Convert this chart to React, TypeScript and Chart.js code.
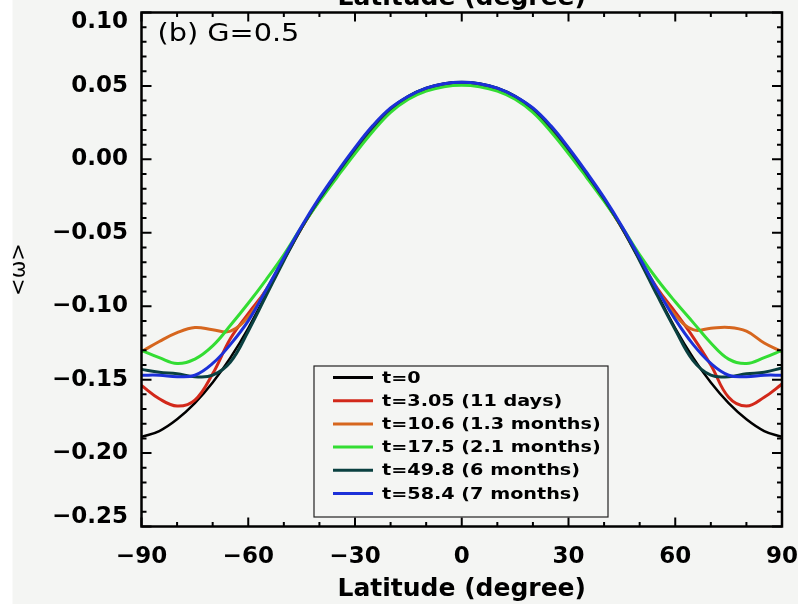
import { useEffect, useRef } from 'react';
import { Chart, registerables } from 'chart.js';

Chart.register(...registerables);

// Latitude grid (degrees)
const latitudes = [
  -90, -85, -80, -75, -70, -65, -60, -55, -50, -45, -40, -35, -30, -25, -20, -15, -10, -5, 0,
  5, 10, 15, 20, 25, 30, 35, 40, 45, 50, 55, 60, 65, 70, 75, 80, 85, 90,
];

// Latitudinal profiles of <ω> at successive times
const omegaT0 = [
  -0.189, -0.185, -0.177, -0.166, -0.152, -0.135, -0.115, -0.092, -0.0685, -0.0465, -0.027, -0.0095, 0.007, 0.022, 0.0345, 0.043, 0.0485, 0.0515, 0.0525,
  0.0515, 0.0485, 0.043, 0.0345, 0.022, 0.007, -0.0095, -0.027, -0.0465, -0.0685, -0.092, -0.115, -0.135, -0.152, -0.166, -0.177, -0.185, -0.189,
];
const omegaT305 = [
  -0.154, -0.163, -0.168, -0.164, -0.146, -0.122, -0.105, -0.089, -0.068, -0.0465, -0.0275, -0.010, 0.0065, 0.0215, 0.034, 0.0425, 0.048, 0.051, 0.052,
  0.051, 0.048, 0.0425, 0.034, 0.0215, 0.0065, -0.010, -0.0275, -0.0465, -0.068, -0.088, -0.104, -0.121, -0.140, -0.162, -0.168, -0.162, -0.153,
];
const omegaT106 = [
  -0.131, -0.124, -0.118, -0.1145, -0.116, -0.117, -0.107, -0.089, -0.068, -0.0465, -0.0275, -0.010, 0.0065, 0.0215, 0.034, 0.0425, 0.048, 0.051, 0.052,
  0.051, 0.048, 0.0425, 0.034, 0.0215, 0.0065, -0.010, -0.0275, -0.0465, -0.068, -0.089, -0.106, -0.116, -0.115, -0.1145, -0.117, -0.125, -0.131,
];
const omegaT175 = [
  -0.130, -0.135, -0.139, -0.136, -0.127, -0.113, -0.098, -0.082, -0.065, -0.046, -0.0285, -0.012, 0.004, 0.019, 0.032, 0.041, 0.0465, 0.0495, 0.0505,
  0.0495, 0.0465, 0.041, 0.032, 0.019, 0.004, -0.012, -0.0285, -0.046, -0.065, -0.082, -0.097, -0.111, -0.125, -0.136, -0.139, -0.135, -0.130,
];
const omegaT498 = [
  -0.143, -0.145, -0.146, -0.148, -0.147, -0.138, -0.117, -0.093, -0.069, -0.0465, -0.027, -0.0095, 0.007, 0.022, 0.0345, 0.043, 0.0485, 0.0515, 0.0525,
  0.0515, 0.0485, 0.043, 0.0345, 0.022, 0.007, -0.0095, -0.027, -0.0465, -0.069, -0.093, -0.116, -0.137, -0.147, -0.148, -0.146, -0.145, -0.142,
];
const omegaT584 = [
  -0.147, -0.147, -0.148, -0.147, -0.139, -0.126, -0.110, -0.089, -0.067, -0.0455, -0.026, -0.0085, 0.008, 0.023, 0.035, 0.043, 0.0485, 0.0515, 0.0525,
  0.0515, 0.0485, 0.043, 0.035, 0.023, 0.008, -0.0085, -0.026, -0.0455, -0.067, -0.089, -0.109, -0.126, -0.139, -0.147, -0.148, -0.147, -0.147,
];

const seriesValues = [omegaT0, omegaT305, omegaT106, omegaT175, omegaT498, omegaT584];
const seriesLabels = [
  't=0',
  't=3.05 (11 days)',
  't=10.6 (1.3 months)',
  't=17.5 (2.1 months)',
  't=49.8 (6 months)',
  't=58.4 (7 months)',
];
const seriesColors = ['#000000', '#d2281a', '#d6661e', '#33dd33', '#0a4040', '#1c30d8'];
const seriesWidths = [2.5, 3, 3, 3, 3, 3];

const xTickValues = [-90, -60, -30, 0, 30, 60, 90];
const yTickValues = [-0.25, -0.2, -0.15, -0.1, -0.05, 0, 0.05, 0.1];

const panelLabel = '(b) G=0.5';
const xTitle = 'Latitude (degree)';
const yTitle = '<ω>';

const BG = '#f4f5f3';
const TICK_FONT = { family: 'DejaVu Sans', size: 23, weight: 'bold' as const };

const minusSign = (s: string) => s.replace('-', '\u2212');

// Frame, inward ticks, panel tag, top title and legend box
const decorations = {
  id: 'decorations',
  afterDraw(chart: any) {
    const { ctx, chartArea: a, scales } = chart;
    const xs = scales.x;
    const ys = scales.y;
    ctx.save();
    ctx.strokeStyle = '#000';
    ctx.lineWidth = 2;
    ctx.beginPath();
    for (let d = -90; d <= 90; d += 10) {
      const px = xs.getPixelForValue(d);
      const len = d % 30 === 0 ? 9 : 4.5;
      ctx.moveTo(px, a.bottom);
      ctx.lineTo(px, a.bottom - len);
      ctx.moveTo(px, a.top);
      ctx.lineTo(px, a.top + len);
    }
    for (let k = -25; k <= 10; k++) {
      const py = ys.getPixelForValue(k / 100);
      const len = k % 5 === 0 ? 10 : 5;
      ctx.moveTo(a.left, py);
      ctx.lineTo(a.left + len, py);
      ctx.moveTo(a.right, py);
      ctx.lineTo(a.right - len, py);
    }
    ctx.stroke();
    ctx.lineWidth = 2.5;
    ctx.strokeRect(a.left, a.top, a.right - a.left, a.bottom - a.top);

    // top axis title, partly outside the canvas
    ctx.fillStyle = '#000';
    ctx.font = 'bold 25px "DejaVu Sans"';
    ctx.textAlign = 'center';
    ctx.textBaseline = 'alphabetic';
    ctx.fillText(xTitle, (a.left + a.right) / 2, 5);

    // panel tag
    ctx.save();
    ctx.translate(a.left + 16, a.top + 22);
    ctx.scale(1.15, 1);
    ctx.font = '25px "DejaVu Sans"';
    ctx.textAlign = 'left';
    ctx.textBaseline = 'middle';
    ctx.fillText(panelLabel, 0, 0);
    ctx.restore();

    // legend
    const lx = 314;
    const ly = 366;
    const lw = 294;
    const lh = 151;
    ctx.fillStyle = BG;
    ctx.fillRect(lx, ly, lw, lh);
    ctx.lineWidth = 1.2;
    ctx.strokeStyle = '#222';
    ctx.strokeRect(lx, ly, lw, lh);
    chart.data.datasets.forEach((ds: any, i: number) => {
      const y = ly + 11.5 + i * 23.2;
      ctx.strokeStyle = ds.borderColor;
      ctx.lineWidth = 3;
      ctx.beginPath();
      ctx.moveTo(lx + 19, y);
      ctx.lineTo(lx + 59, y);
      ctx.stroke();
      ctx.save();
      ctx.translate(lx + 68, y);
      ctx.scale(1.2, 1);
      ctx.fillStyle = '#000';
      ctx.font = 'bold 16px "DejaVu Sans"';
      ctx.textAlign = 'left';
      ctx.textBaseline = 'middle';
      ctx.fillText(ds.label, 0, 1);
      ctx.restore();
    });
    ctx.restore();
  },
};

export default function App() {
  const canvasRef = useRef<HTMLCanvasElement>(null);

  useEffect(() => {
    const canvas = canvasRef.current;
    if (!canvas) return;
    const chart = new Chart(canvas, {
      type: 'line',
      data: {
        datasets: seriesValues.map((vals, i) => ({
          label: seriesLabels[i],
          data: latitudes.map((lat, j) => ({ x: lat, y: vals[j] })),
          borderColor: seriesColors[i],
          backgroundColor: seriesColors[i],
          borderWidth: seriesWidths[i],
          pointRadius: 0,
          tension: 0.4,
          fill: false,
          order: seriesValues.length - 1 - i,
        })),
      },
      options: {
        responsive: false,
        animation: false,
        events: [],
        layout: { padding: { left: 0, top: 12.5, right: 16, bottom: 0 } },
        plugins: {
          legend: { display: false },
          tooltip: { enabled: false },
          title: { display: false },
        },
        scales: {
          x: {
            type: 'linear',
            min: -90,
            max: 90,
            grid: { display: false, drawTicks: false },
            border: { display: false },
            afterBuildTicks: (s: any) => {
              s.ticks = xTickValues.map((v) => ({ value: v }));
            },
            afterFit: (s: any) => {
              s.height = 77.5;
              s.paddingLeft = 0;
              s.paddingRight = 0;
            },
            ticks: {
              autoSkip: false,
              maxRotation: 0,
              padding: 17,
              color: '#000',
              font: TICK_FONT,
              callback: (v: any) => minusSign(String(v)),
            },
            title: {
              display: true,
              text: xTitle,
              color: '#000',
              font: { family: 'DejaVu Sans', size: 25, weight: 'bold' },
              padding: { top: 0, bottom: 0 },
            },
          },
          y: {
            type: 'linear',
            min: -0.25,
            max: 0.1,
            grid: { display: false, drawTicks: false },
            border: { display: false },
            afterBuildTicks: (s: any) => {
              s.ticks = yTickValues.map((v) => ({ value: v }));
            },
            afterFit: (s: any) => {
              s.width = 141.5;
              s.paddingTop = 0;
              s.paddingBottom = 0;
            },
            ticks: {
              autoSkip: false,
              padding: 13.5,
              color: '#000',
              font: { ...TICK_FONT, lineHeight: 0.85 },
              callback: (v: any) => {
                const n = Number(v);
                const s = minusSign((Math.abs(n) < 1e-9 ? 0 : n).toFixed(2));
                if (Math.abs(n - 0.1) < 1e-9) return ['', s];
                if (Math.abs(n + 0.25) < 1e-9) return [s, ''];
                return s;
              },
            },
            title: {
              display: true,
              text: yTitle,
              color: '#000',
              font: { family: 'DejaVu Sans', size: 21 },
              padding: { top: 7, bottom: 0 },
            },
          },
        },
      },
      plugins: [decorations],
    });
    return () => chart.destroy();
  }, []);

  return (
    <div
      style={{
        position: 'fixed',
        left: 0,
        top: 0,
        width: 798,
        height: 604,
        background: `linear-gradient(to right, #ffffff 0px, #ffffff 12px, ${BG} 13px)`,
      }}
    >
      <canvas ref={canvasRef} width={798} height={604} style={{ display: 'block', width: 798, height: 604 }} />
    </div>
  );
}
